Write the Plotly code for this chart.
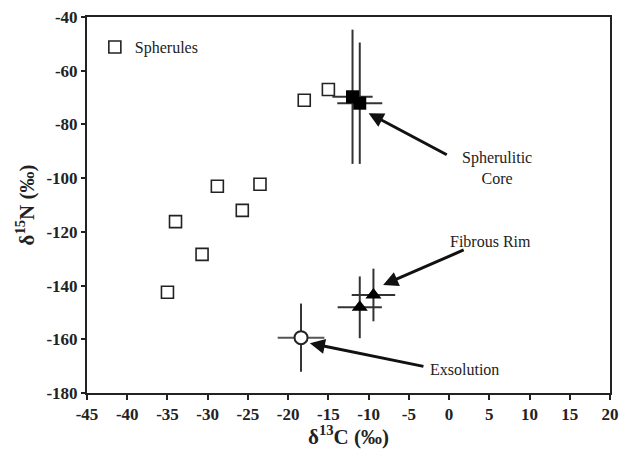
import plotly.graph_objects as go

# Spherules (open squares)
sph_c = [-18.0, -15.0, -28.8, -23.5, -25.7, -34.0, -30.7, -35.0]
sph_n = [-71.0, -67.0, -103.0, -102.3, -112.0, -116.2, -128.4, -142.5]

# Spherulitic core (filled squares)
core_c = [-12.0, -11.1]
core_n = [-69.7, -72.1]
core_cerr = [2.5, 2.8]
core_nerr = [25.0, 22.6]

# Fibrous rim (filled triangles)
rim_c = [-11.1, -9.4]
rim_n = [-148.1, -143.5]
rim_cerr = [2.75, 2.7]
rim_nerr = [11.5, 9.8]

# Exsolution (open circle)
exs_c = [-18.4]
exs_n = [-159.4]
exs_cerr = [2.9]
exs_nerr = [12.7]

x_ticks = list(range(-45, 21, 5))
y_ticks = list(range(-180, -39, 20))

FONT = "'Liberation Serif', 'Times New Roman', Times, serif"
ERRC = "#333333"

fig = go.Figure()

fig.add_trace(go.Scatter(
    x=sph_c, y=sph_n, mode="markers", name="Spherules",
    marker=dict(symbol="square-open", size=12, color="#222222", line=dict(width=1.6)),
))

fig.add_trace(go.Scatter(
    x=core_c, y=core_n, mode="markers", showlegend=False,
    marker=dict(symbol="square", size=13, color="black"),
    error_x=dict(type="data", array=core_cerr, width=0, thickness=2, color=ERRC),
    error_y=dict(type="data", array=core_nerr, width=0, thickness=2, color=ERRC),
))

fig.add_trace(go.Scatter(
    x=rim_c, y=rim_n, mode="markers", showlegend=False,
    marker=dict(symbol="triangle-up", size=14, color="black"),
    error_x=dict(type="data", array=rim_cerr, width=0, thickness=2, color=ERRC),
    error_y=dict(type="data", array=rim_nerr, width=0, thickness=2, color=ERRC),
))

fig.add_trace(go.Scatter(
    x=exs_c, y=exs_n, mode="markers", showlegend=False,
    marker=dict(symbol="circle", size=13, color="white", line=dict(width=2, color="#222222")),
    error_x=dict(type="data", array=exs_cerr, width=0, thickness=2, color="#555555"),
    error_y=dict(type="data", array=exs_nerr, width=0, thickness=2, color=ERRC),
))

arrow_common = dict(xref="x", yref="y", axref="x", ayref="y", showarrow=True,
                    arrowhead=2, arrowsize=1.0, arrowwidth=3, arrowcolor="#111111", text="")
fig.add_annotation(x=-10.0, y=-75.8, ax=-0.1, ay=-91.6, **arrow_common)
fig.add_annotation(x=-8.2, y=-139.8, ax=2.0, ay=-126.5, **arrow_common)
fig.add_annotation(x=-17.3, y=-161.5, ax=-3.0, ay=-170.2, **arrow_common)

txt_font = dict(family=FONT, size=16, color="#222222")
fig.add_annotation(x=5.9, y=-96.2, xref="x", yref="y", text="Spherulitic<br>Core",
                   showarrow=False, font=txt_font, align="center")
fig.add_annotation(x=5.1, y=-123.7, xref="x", yref="y", text="Fibrous Rim",
                   showarrow=False, font=txt_font)
fig.add_annotation(x=-2.6, y=-171.4, xref="x", yref="y", text="Exsolution",
                   showarrow=False, font=txt_font, xanchor="left")

fig.update_layout(
    width=622, height=441,
    margin=dict(l=79, r=20, t=9, b=56),
    paper_bgcolor="white", plot_bgcolor="white",
    font=dict(family=FONT, color="#222222"),
    showlegend=True,
    legend=dict(x=0.015, y=0.965, xanchor="left", yanchor="top",
                bgcolor="rgba(0,0,0,0)", font=dict(family=FONT, size=16, color="#222222")),
    xaxis=dict(
        range=[-45, 20], tickvals=x_ticks, ticktext=[str(v) for v in x_ticks],
        ticks="outside", ticklen=5, tickwidth=2, tickcolor="#222222",
        showline=True, linewidth=2, linecolor="#222222", mirror=True,
        showgrid=False, zeroline=False, automargin=False, ticklabeloverflow="allow",
        tickfont=dict(family=FONT, size=17, color="#222222", weight="bold"),
        title=dict(text="δ<sup>13</sup>C (‰)", standoff=5,
                   font=dict(family=FONT, size=21, color="#222222", weight="bold")),
    ),
    yaxis=dict(
        range=[-180, -40], tickvals=y_ticks, ticktext=[str(v) for v in y_ticks],
        ticks="outside", ticklen=4, tickwidth=2, tickcolor="#222222",
        showline=True, linewidth=2, linecolor="#222222", mirror=True,
        showgrid=False, zeroline=False, automargin=False, ticklabeloverflow="allow",
        tickfont=dict(family=FONT, size=17, color="#222222", weight="bold"),
        title=dict(text="δ<sup>15</sup>N (‰)", standoff=6,
                   font=dict(family=FONT, size=21, color="#222222", weight="bold")),
    ),
)

fig.write_html("out.html")
